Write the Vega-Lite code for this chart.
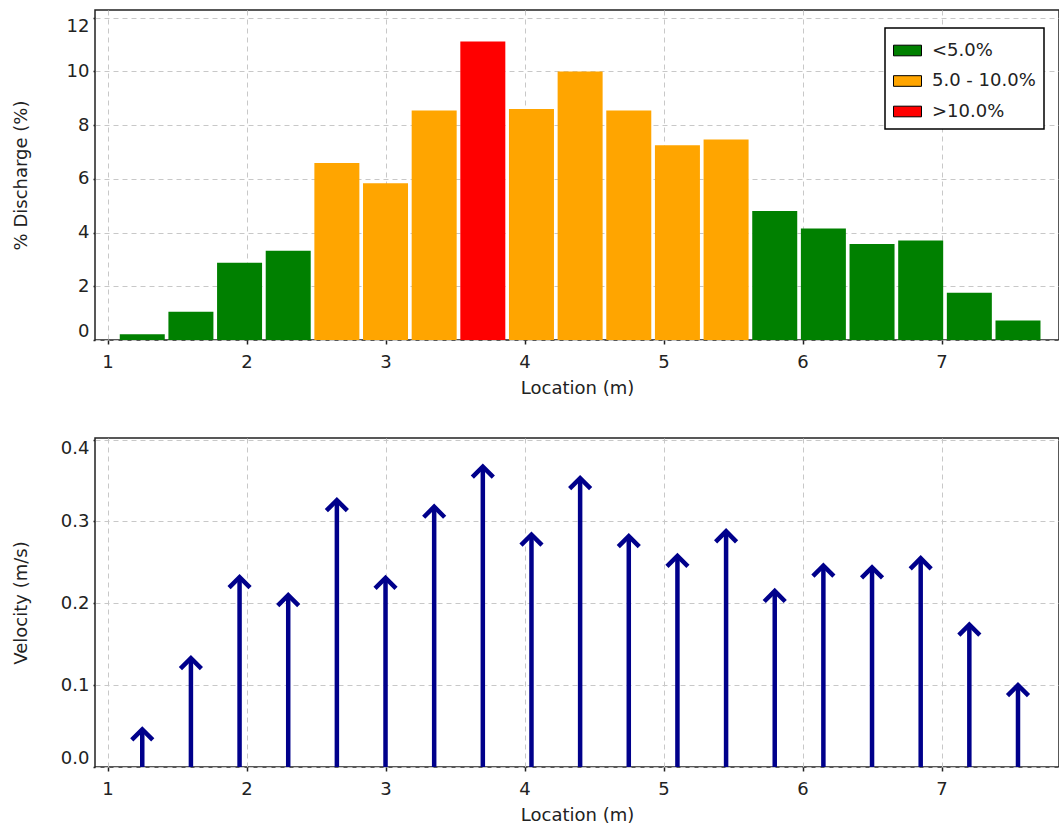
{
  "$schema": "https://vega.github.io/schema/vega-lite/v6.json",
  "padding": {"left": 11, "top": 9, "right": 0, "bottom": 0},
  "background": "white",
  "config": {
    "font": "DejaVu Sans",
    "view": {"stroke": "#222222", "strokeWidth": 1.5},
    "axis": {
      "labelFontSize": 18, "titleFontSize": 18, "titleFontWeight": "normal",
      "labelColor": "#222222", "titleColor": "#222222",
      "domain": false,
      "gridColor": "#c8c8c8", "gridDash": [5, 4], "gridWidth": 1,
      "tickColor": "#222222", "tickWidth": 1.5
    },
    "axisX": {"tickSize": 4, "labelPadding": 9, "titlePadding": 8},
    "axisY": {"tickSize": 2, "labelPadding": 4},
    "legend": {"strokeWidth": 1.5}
  },
  "data": {"values": [
    {"location": 1.25, "discharge": 0.21, "velocity": 0.046, "class": "<5.0%"},
    {"location": 1.60, "discharge": 1.05, "velocity": 0.133, "class": "<5.0%"},
    {"location": 1.95, "discharge": 2.87, "velocity": 0.232, "class": "<5.0%"},
    {"location": 2.30, "discharge": 3.32, "velocity": 0.210, "class": "<5.0%"},
    {"location": 2.65, "discharge": 6.59, "velocity": 0.326, "class": "5.0 - 10.0%"},
    {"location": 3.00, "discharge": 5.83, "velocity": 0.231, "class": "5.0 - 10.0%"},
    {"location": 3.35, "discharge": 8.54, "velocity": 0.318, "class": "5.0 - 10.0%"},
    {"location": 3.70, "discharge": 11.11, "velocity": 0.367, "class": ">10.0%"},
    {"location": 4.05, "discharge": 8.60, "velocity": 0.284, "class": "5.0 - 10.0%"},
    {"location": 4.40, "discharge": 9.99, "velocity": 0.353, "class": "5.0 - 10.0%"},
    {"location": 4.75, "discharge": 8.54, "velocity": 0.282, "class": "5.0 - 10.0%"},
    {"location": 5.10, "discharge": 7.25, "velocity": 0.258, "class": "5.0 - 10.0%"},
    {"location": 5.45, "discharge": 7.46, "velocity": 0.288, "class": "5.0 - 10.0%"},
    {"location": 5.80, "discharge": 4.80, "velocity": 0.215, "class": "<5.0%"},
    {"location": 6.15, "discharge": 4.15, "velocity": 0.246, "class": "<5.0%"},
    {"location": 6.50, "discharge": 3.57, "velocity": 0.244, "class": "<5.0%"},
    {"location": 6.85, "discharge": 3.70, "velocity": 0.255, "class": "<5.0%"},
    {"location": 7.20, "discharge": 1.76, "velocity": 0.174, "class": "<5.0%"},
    {"location": 7.55, "discharge": 0.73, "velocity": 0.100, "class": "<5.0%"}
  ]},
  "spacing": 98,
  "bounds": "flush",
  "vconcat": [
    {
      "width": 964, "height": 330,
      "mark": {"type": "bar", "width": 45},
      "encoding": {
        "x": {"field": "location", "type": "quantitative", "title": "Location (m)",
              "scale": {"domain": [0.91, 7.845], "nice": false, "zero": false, "padding": 0},
              "axis": {"values": [1, 2, 3, 4, 5, 6, 7], "format": "d"}},
        "y": {"field": "discharge", "type": "quantitative", "title": "% Discharge (%)",
              "scale": {"domain": [0, 12.28], "nice": false},
              "axis": {"values": [0, 2, 4, 6, 8, 10, 12], "format": "d", "labelFlush": 12, "titlePadding": 36}},
        "color": {"field": "class", "type": "nominal",
                  "scale": {"domain": ["<5.0%", "5.0 - 10.0%", ">10.0%"], "range": ["#008000", "#FFA500", "#FF0000"]},
                  "legend": {"title": null, "orient": "none", "legendX": 790, "legendY": 18,
                             "symbolType": "M-1,-0.38L1,-0.38L1,0.38L-1,0.38Z", "symbolSize": 784,
                             "symbolStrokeColor": "black", "symbolStrokeWidth": 1, "symbolOpacity": 1,
                             "labelFontSize": 18, "labelOffset": 10, "labelColor": "#222222",
                             "rowPadding": 6.5, "padding": 8, "strokeColor": "black", "fillColor": "white"}}
      }
    },
    {
      "width": 964, "height": 329,
      "encoding": {
        "x": {"field": "location", "type": "quantitative", "title": "Location (m)",
              "scale": {"domain": [0.91, 7.845], "nice": false, "zero": false, "padding": 0},
              "axis": {"values": [1, 2, 3, 4, 5, 6, 7], "format": "d"}}
      },
      "layer": [
        {
          "mark": {"type": "rule", "strokeWidth": 4.5, "color": "#00008B"},
          "encoding": {
            "y": {"field": "velocity", "type": "quantitative", "title": "Velocity (m/s)",
                  "scale": {"domain": [0, 0.402], "nice": false},
                  "axis": {"values": [0, 0.1, 0.2, 0.3, 0.4], "format": ".1f", "labelFlush": 12, "titlePadding": 30}},
            "y2": {"datum": 0}
          }
        },
        {
          "mark": {"type": "point", "shape": "M-1,1L0,0L1,1", "size": 440, "filled": false,
                   "strokeWidth": 4.5, "color": "#00008B", "opacity": 1, "strokeJoin": "miter"},
          "encoding": {
            "y": {"field": "velocity", "type": "quantitative"}
          }
        }
      ]
    }
  ]
}
